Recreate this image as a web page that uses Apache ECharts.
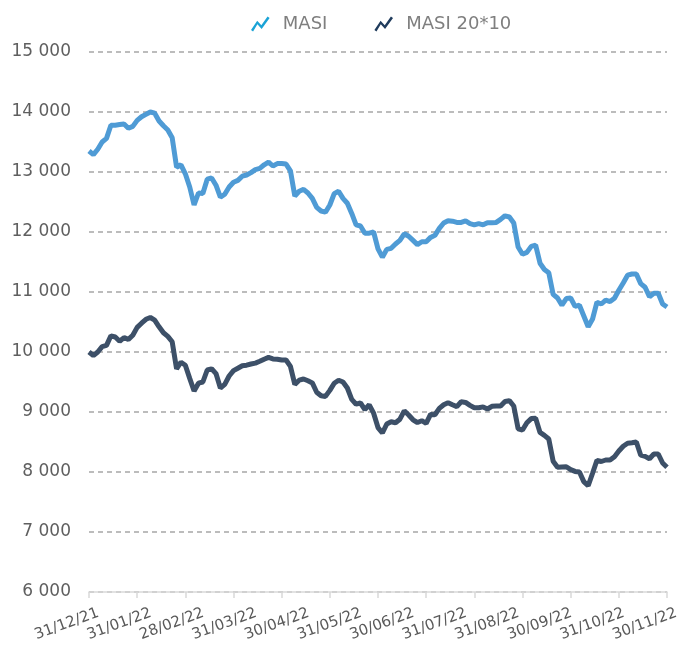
<!DOCTYPE html>
<html>
<head>
<meta charset="utf-8">
<script src="https://cdn.jsdelivr.net/npm/echarts@6/dist/echarts.min.js"></script>
<style>
  html, body { margin: 0; padding: 0; background: #fff; }
  #chart { width: 692px; height: 661px; }
</style>
</head>
<body>
<div id="chart"></div>
<script>
(function () {
  'use strict'

  // month-end labels shown under the axis
  var xLabels = ['31/12/21', '31/01/22', '28/02/22', '31/03/22', '30/04/22', '31/05/22',
    '30/06/22', '31/07/22', '31/08/22', '30/09/22', '31/10/22', '30/11/22'];

  var masi = [
    13350, 13290, 13380, 13500, 13560, 13780, 13780, 13790, 13800, 13730, 13760, 13860,
    13920, 13960, 14000, 13980, 13850, 13770, 13700, 13570, 13080, 13120, 12970, 12750,
    12450, 12650, 12640, 12880, 12900, 12780, 12580, 12630, 12750, 12830, 12860, 12930,
    12950, 12990, 13040, 13060, 13120, 13165, 13100, 13140, 13140, 13133, 13020, 12600,
    12680, 12710, 12650, 12560, 12410, 12350, 12330, 12450, 12640, 12680, 12560, 12480,
    12310, 12120, 12100, 11980, 11980, 12000, 11720, 11580, 11710, 11728, 11800, 11860,
    11970, 11930, 11860, 11790, 11838, 11838, 11910, 11945, 12060, 12150, 12188, 12180,
    12160, 12160, 12185, 12140, 12120, 12140, 12120, 12155, 12155, 12160, 12210, 12270,
    12250, 12150, 11750, 11630, 11660, 11760, 11780, 11480, 11375, 11320, 10960, 10900,
    10780, 10890, 10900, 10760, 10780, 10600, 10420, 10550, 10830, 10800, 10865, 10840,
    10895, 11030, 11150, 11280, 11300, 11300, 11140, 11080, 10920, 10980, 10980, 10800,
    10750
  ];

  var masi2010 = [
    10000, 9940, 10000, 10090, 10110, 10270, 10250, 10180, 10240, 10210, 10280, 10410,
    10480, 10545, 10575, 10530, 10420, 10320, 10260, 10170, 9720, 9830, 9780, 9560,
    9350, 9480, 9500, 9700, 9720, 9640, 9400, 9460, 9600, 9690, 9730, 9770,
    9780, 9800, 9815, 9845, 9880, 9910, 9885, 9880, 9867, 9867, 9760, 9460,
    9530, 9550, 9520, 9485, 9330, 9270, 9260, 9360, 9480, 9530, 9500, 9400,
    9210, 9130, 9150, 9040, 9120, 8980, 8740, 8650, 8800, 8838, 8820, 8880,
    9020, 8950, 8870, 8825, 8855, 8812, 8960, 8955, 9060, 9120, 9155, 9120,
    9090, 9170, 9160, 9110, 9070, 9070, 9085, 9050, 9095, 9100, 9100, 9175,
    9188, 9100, 8720, 8700, 8820, 8890, 8895, 8660, 8610, 8550, 8180, 8080,
    8085, 8088, 8040, 8010, 8000, 7840, 7770, 7980, 8195, 8175, 8200, 8200,
    8255, 8350, 8430, 8480, 8488, 8500, 8280, 8260, 8220, 8300, 8300, 8150,
    8080
  ];

  var yMin = 6000, yMax = 15000, yStep = 1000;

  // one category per reading, month-end label every 12th
  var categories = masi.map(function (v, i) {
    return i % 12 === 0 ? xLabels[i / 12] : '';
  });

  var zigzag = 'path://M0,15 L6,6 L10,10.5 L16,2 L18,3.5 L10.3,14 L6.2,9.5 L2,16.5 Z';

  var option = {
    animation: false,
    textStyle: { fontFamily: 'DejaVu Sans' },
    legend: {
      top: 10,
      left: 246,
      itemWidth: 19,
      itemHeight: 15,
      itemGap: 47,
      textStyle: {
        color: '#7f7f7f',
        fontSize: 18,
        fontFamily: 'DejaVu Sans',
        padding: [0, 0, 0, 8]
      },
      data: [
        { name: 'MASI', icon: zigzag, itemStyle: { color: '#1aa3d6' } },
        { name: 'MASI 20*10', icon: zigzag, itemStyle: { color: '#1f3b5c' } }
      ]
    },
    grid: {
      top: 52,
      right: 25,
      bottom: 69,
      left: 89
    },
    xAxis: {
      type: 'category',
      data: categories,
      boundaryGap: false,
      axisLine: {
        lineStyle: { color: '#d9d9d9', width: 1.5 }
      },
      axisTick: {
        show: true,
        interval: 10,
        length: 6,
        lineStyle: { color: '#d9d9d9', width: 1.5 }
      },
      axisLabel: {
        interval: 11,
        rotate: 20,
        fontSize: 15,
        color: '#595959',
        margin: 24,
        padding: [0, -10, 0, 0]
      },
      splitLine: { show: false }
    },
    yAxis: {
      type: 'value',
      min: yMin,
      max: yMax,
      interval: yStep,
      axisLine: { show: false },
      axisTick: { show: false },
      axisLabel: {
        fontSize: 17,
        color: '#5f5f5f',
        margin: 18,
        formatter: function (v) {
          return String(v).replace(/\B(?=(\d{3})+(?!\d))/g, ' ');
        }
      },
      splitLine: {
        lineStyle: { color: '#a6a6a6', type: [5, 4], width: 1.5 }
      }
    },
    series: [
      {
        name: 'MASI',
        type: 'line',
        data: masi,
        showSymbol: false,
        lineStyle: { width: 5, color: '#4f9bd5' },
        itemStyle: { color: '#1aa3d6' }
      },
      {
        name: 'MASI 20*10',
        type: 'line',
        data: masi2010,
        showSymbol: false,
        lineStyle: { width: 5, color: '#3d5068' },
        itemStyle: { color: '#1f3b5c' }
      }
    ]
  };

  var chart = echarts.init(document.getElementById('chart'));
  chart.setOption(option);
})();
</script>
</body>
</html>
